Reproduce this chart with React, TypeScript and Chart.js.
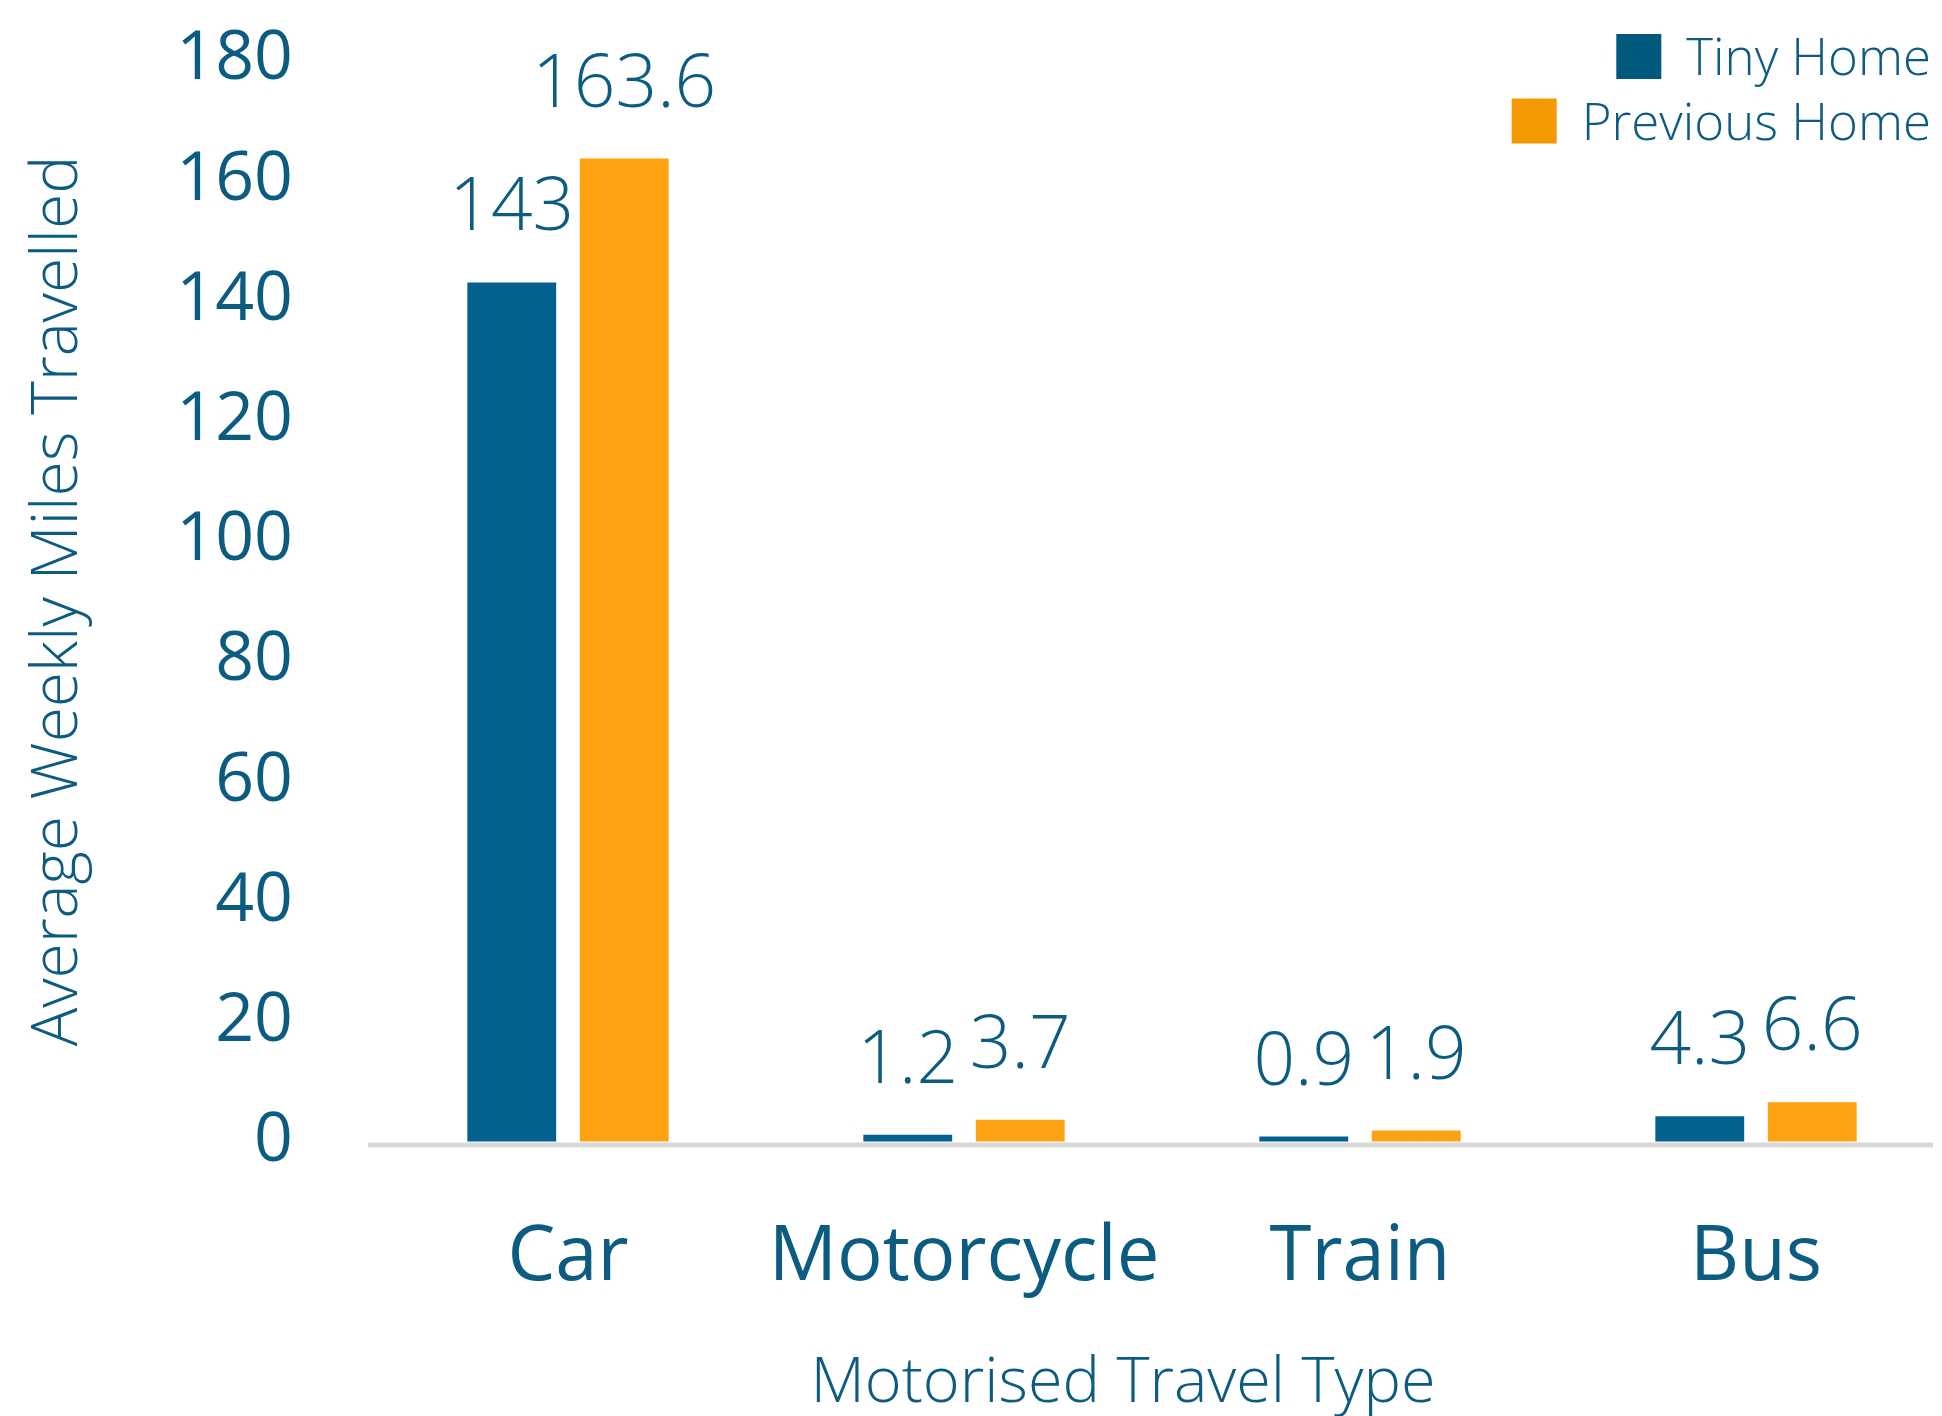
import React, { useEffect, useRef } from 'react';
import { Chart, registerables } from 'chart.js';

Chart.register(...registerables);

const categories = ['Car', 'Motorcycle', 'Train', 'Bus'];
const tinyHome = [143, 1.2, 0.9, 4.3];
const previousHome = [163.6, 3.7, 1.9, 6.6];
const seriesNames = ['Tiny Home', 'Previous Home'];
const yMin = 0;
const yMax = 180;
const yStep = 20;
const yAxisTitle = 'Average Weekly Miles Travelled';
const xAxisTitle = 'Motorised Travel Type';

const TEXT = '#0c5b80';
const FONT = "'Open Sans', 'Noto Sans', sans-serif";
const BAR_COLORS = ['#03628d', '#fea211'];
const LEGEND_COLORS = ['#02597e', '#f39a02'];

const annotate = {
  id: 'annotate',
  beforeDatasetsDraw(chart: any) {
    const { ctx, chartArea, scales } = chart;
    const y0 = scales.y.getPixelForValue(0);
    ctx.save();
    ctx.fillStyle = '#d9d9d9';
    const x1 = chartArea.left - 2;
    ctx.fillRect(x1, y0 + 0.5, 1933 - x1, 5);
    ctx.restore();
  },
  afterDatasetsDraw(chart: any) {
    const { ctx } = chart;
    ctx.save();
    // value labels
    ctx.fillStyle = TEXT;
    ctx.font = `300 73px ${FONT}`;
    ctx.textAlign = 'center';
    ctx.textBaseline = 'alphabetic';
    chart.data.datasets.forEach((ds: any, di: number) => {
      const meta = chart.getDatasetMeta(di);
      meta.data.forEach((bar: any, i: number) => {
        ctx.fillText(String(ds.data[i]), bar.x, bar.y - 52);
      });
    });
    // legend
    ctx.font = `300 51px ${FONT}`;
    ctx.textAlign = 'left';
    const right = 1931;
    chart.data.datasets.forEach((ds: any, di: number) => {
      const baseline = 75 + di * 64.5;
      const w = ctx.measureText(ds.label).width;
      const tx = right - w;
      ctx.fillStyle = LEGEND_COLORS[di];
      ctx.fillRect(tx - 25 - 45, baseline - 41, 45, 45);
      ctx.fillStyle = TEXT;
      ctx.fillText(ds.label, tx, baseline);
    });
    // x axis title
    ctx.font = `300 63px ${FONT}`;
    ctx.textAlign = 'center';
    ctx.fillStyle = TEXT;
    ctx.fillText(xAxisTitle, 1123, 1402);
    ctx.restore();
  },
};

export default function App() {
  const ref = useRef<HTMLCanvasElement | null>(null);
  useEffect(() => {
    if (!ref.current) return;
    const chart = new Chart(ref.current, {
      type: 'bar',
      data: {
        labels: categories,
        datasets: [
          { label: seriesNames[0], data: tinyHome, backgroundColor: BAR_COLORS[0], categoryPercentage: 0.568, barPercentage: 0.79 },
          { label: seriesNames[1], data: previousHome, backgroundColor: BAR_COLORS[1], categoryPercentage: 0.568, barPercentage: 0.79 },
        ],
      },
      options: {
        responsive: false,
        animation: false,
        devicePixelRatio: 1,
        layout: { autoPadding: false, padding: { top: 60, left: 0, right: 6, bottom: 0 } },
        plugins: { legend: { display: false }, tooltip: { enabled: false } },
        scales: {
          x: {
            grid: { display: false, drawTicks: false },
            border: { display: false },
            ticks: { color: TEXT, font: { family: FONT, size: 76, weight: '400' }, padding: 71, maxRotation: 0, autoSkip: false },
            afterFit: (s: any) => { s.height = 274; },
          },
          y: {
            min: yMin,
            max: yMax,
            grid: { display: true, drawOnChartArea: false, drawTicks: true, tickLength: 77, color: 'rgba(0,0,0,0)' },
            border: { display: false },
            ticks: { stepSize: yStep, color: TEXT, font: { family: FONT, size: 68, weight: '400' }, padding: 0 },
            title: { display: true, text: yAxisTitle, color: TEXT, font: { family: FONT, size: 64, weight: '300' }, padding: { top: 20, bottom: 0 } },
            afterFit: (s: any) => { s.width = 370; },
          },
        },
      },
      plugins: [annotate],
    });
    return () => chart.destroy();
  }, []);
  return (
    <div style={{ position: 'fixed', left: 0, top: 0, width: 1942, height: 1416, overflow: 'hidden', background: '#fff' }}>
      <canvas ref={ref} width={1960} height={1416} style={{ width: 1960, height: 1416, display: 'block' }} />
    </div>
  );
}
